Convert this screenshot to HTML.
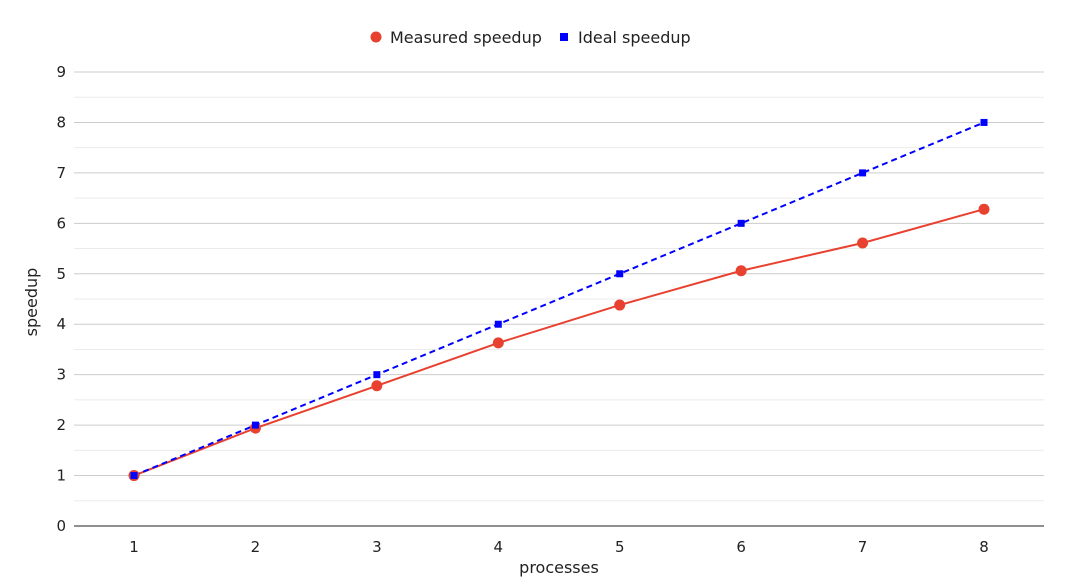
<!DOCTYPE html>
<html><head><meta charset="utf-8"><style>
body{margin:0;background:#fff;}
svg{display:block;font-family:"DejaVu Sans","Liberation Sans",sans-serif;}
</style></head><body>
<svg id="chart" width="1074" height="584">
<g id="grid"></g>
<g id="axes"></g>
<g id="series"></g>
<g>
  <g>
    <circle cx="376" cy="37" r="5.5" fill="#e8412f"/>
    <text x="390" y="43" font-size="16" fill="#222">Measured speedup</text>
  </g>
  <g>
    <rect x="560" y="33" width="8" height="8" fill="#0000ff"/>
    <text x="578" y="43" font-size="16" fill="#222">Ideal speedup</text>
  </g>
</g>
<text x="559" y="573" font-size="16" text-anchor="middle" fill="#222">processes</text>
<text transform="translate(37,302) rotate(-90)" font-size="16" text-anchor="middle" fill="#222">speedup</text>
</svg>
<script>
const categories = [1,2,3,4,5,6,7,8];
const measured = [1.0,1.94,2.78,3.63,4.38,5.06,5.61,6.28];
const ideal = [1,2,3,4,5,6,7,8];
const yTicks = [0,1,2,3,4,5,6,7,8,9];

const NS="http://www.w3.org/2000/svg";
const L=74,R=1044,T=72,B=526,yMax=9;
const xS=v=>134+(v-1)*(984-134)/7;
const yS=v=>B-v*(B-T)/yMax;
function mk(tag,attrs,parent){const e=document.createElementNS(NS,tag);for(const k in attrs)e.setAttribute(k,attrs[k]);parent.appendChild(e);return e;}
const grid=document.getElementById('grid'),axes=document.getElementById('axes'),series=document.getElementById('series');
for(let v=0.5;v<yMax;v+=1){
  const l=mk('line',{x1:L,x2:R,y1:yS(v),y2:yS(v),stroke:'#ebebeb'},grid);
  
  
}
yTicks.forEach(v=>{
  if(v>0){const l=mk('line',{x1:L,x2:R,y1:yS(v),y2:yS(v),stroke:'#cccccc'},grid);
  
  }
  const t=mk('text',{x:66,y:yS(v)+5,'font-size':15,'text-anchor':'end',fill:'#222'},axes);
  t.textContent=v;
  
  
});
const ax=mk('line',{x1:L,x2:R,y1:B,y2:B,stroke:'#222'},axes);


categories.forEach(c=>{
  const t=mk('text',{x:xS(c),y:552,'font-size':15,'text-anchor':'middle',fill:'#222'},axes);
  t.textContent=c;
  
  
});
const mp=mk('polyline',{points:categories.map((c,i)=>xS(c)+','+yS(measured[i])).join(' '),fill:'none',stroke:'#e8412f','stroke-width':2},series);


const ip=mk('polyline',{points:categories.map((c,i)=>xS(c)+','+yS(ideal[i])).join(' '),fill:'none',stroke:'#0000ff','stroke-width':2,'stroke-dasharray':'6,4'},series);


categories.forEach((c,i)=>{
  const p=mk('circle',{cx:xS(c),cy:yS(measured[i]),r:5.5,fill:'#e8412f'},series);
  
  
});
categories.forEach((c,i)=>{
  const p=mk('rect',{x:xS(c)-3.5,y:yS(ideal[i])-3.5,width:7,height:7,fill:'#0000ff'},series);
  
  
});
</script>
</body></html>
